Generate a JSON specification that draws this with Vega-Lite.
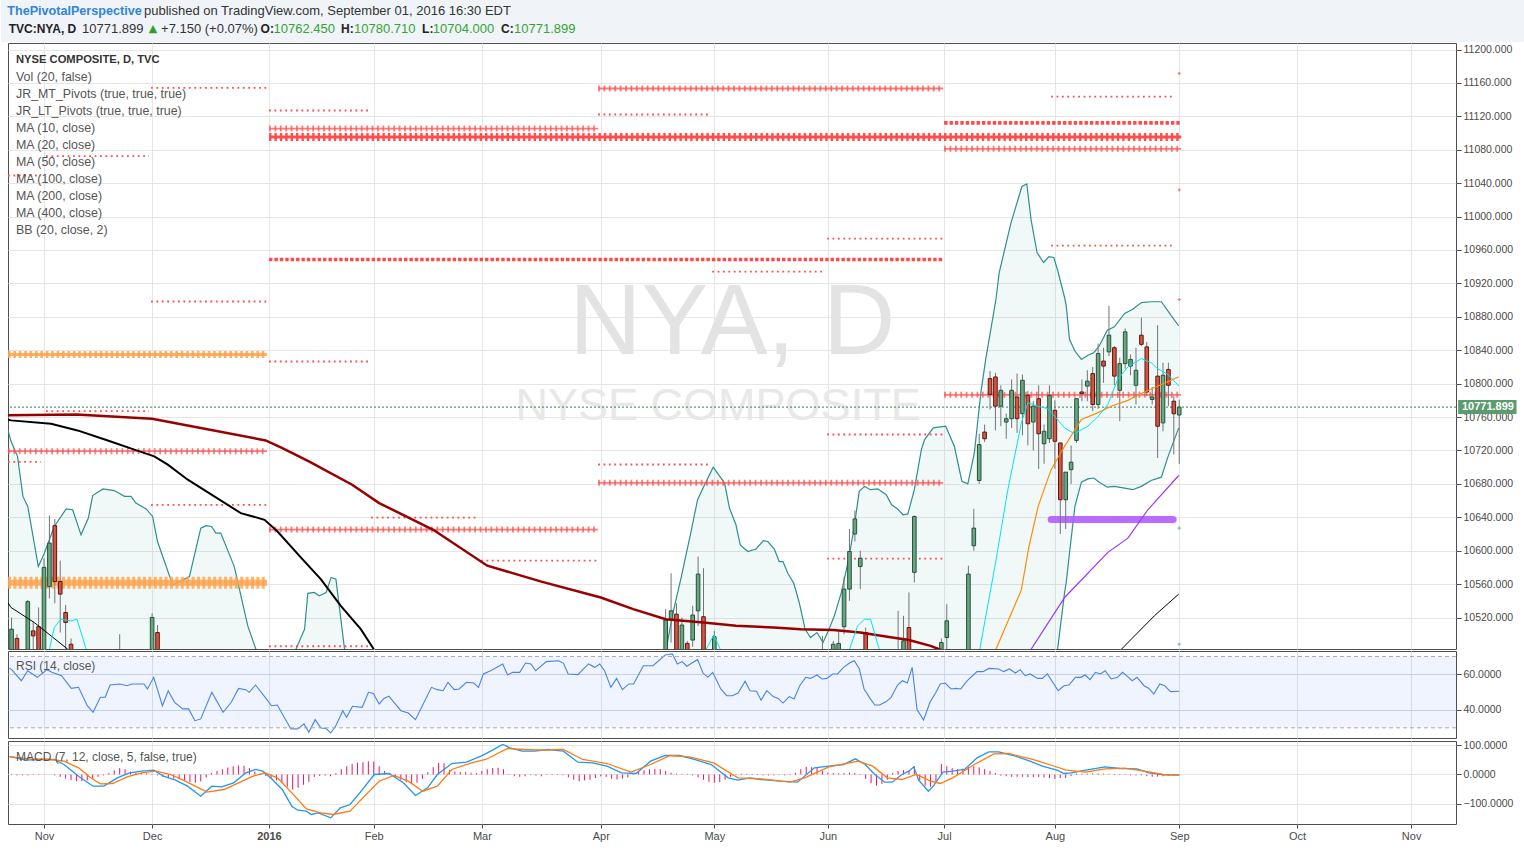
{
"$schema":"https://vega.github.io/schema/vega-lite/v6.json",
"background":"white",
"padding":0,
"spacing":0,
"config":{"font":"Liberation Sans","view":{"stroke":"#4d4d4d","strokeWidth":1},"axis":{"labelFont":"Liberation Sans","labelFontSize":10.5,"labelColor":"#4a4a4a","tickColor":"#4d4d4d","gridColor":"#e6e6e6","domain":false}},
"resolve":{"scale":{"x":"independent","y":"independent"},"axis":{"x":"independent","y":"independent"}},
"datasets":{
"candles":[
{"i":-6,"o":10440,"h":10520,"l":10430,"c":10506},{"i":-5,"o":10495,"h":10500,"l":10440,"c":10450},{"i":-3,"o":10450,"h":10541,"l":10440,"c":10539},{"i":-2,"o":10504,"h":10515,"l":10470,"c":10498},{"i":-1,"o":10509,"h":10532,"l":10460,"c":10470},{"i":0,"o":10470,"h":10591,"l":10465,"c":10580},{"i":1,"o":10557,"h":10642,"l":10543,"c":10609},{"i":2,"o":10630,"h":10638,"l":10537,"c":10563},{"i":3,"o":10563,"h":10588,"l":10502,"c":10548},{"i":4,"o":10526,"h":10535,"l":10470,"c":10514},{"i":5,"o":10488,"h":10495,"l":10430,"c":10440},{"i":14,"o":10470,"h":10500,"l":10440,"c":10460},{"i":20,"o":10470,"h":10525,"l":10460,"c":10520},{"i":21,"o":10502,"h":10511,"l":10450,"c":10460},
{"i":115,"o":10470,"h":10530,"l":10460,"c":10517},{"i":116,"o":10518,"h":10573,"l":10490,"c":10528},{"i":117,"o":10524,"h":10537,"l":10460,"c":10470},{"i":118,"o":10470,"h":10520,"l":10460,"c":10511},{"i":119,"o":10489,"h":10492,"l":10450,"c":10460},{"i":120,"o":10493,"h":10534,"l":10485,"c":10523},{"i":121,"o":10528,"h":10593,"l":10510,"c":10572},{"i":122,"o":10521,"h":10579,"l":10460,"c":10470},{"i":124,"o":10470,"h":10504,"l":10460,"c":10497},
{"i":144,"o":10460,"h":10498,"l":10450,"c":10470},{"i":146,"o":10460,"h":10492,"l":10450,"c":10488},{"i":147,"o":10465,"h":10504,"l":10455,"c":10489},{"i":148,"o":10509,"h":10569,"l":10500,"c":10554},{"i":149,"o":10554,"h":10626,"l":10540,"c":10599},{"i":150,"o":10620,"h":10648,"l":10611,"c":10638},{"i":151,"o":10581,"h":10600,"l":10554,"c":10591},{"i":152,"o":10502,"h":10508,"l":10440,"c":10450},{"i":158,"o":10470,"h":10528,"l":10450,"c":10475},{"i":159,"o":10470,"h":10522,"l":10460,"c":10492},{"i":160,"o":10508,"h":10550,"l":10460,"c":10470},{"i":161,"o":10574,"h":10642,"l":10562,"c":10641},{"i":166,"o":10440,"h":10495,"l":10430,"c":10490},{"i":167,"o":10496,"h":10536,"l":10470,"c":10516},
{"i":171,"o":10470,"h":10582,"l":10460,"c":10572},{"i":172,"o":10606,"h":10650,"l":10600,"c":10627},{"i":173,"o":10684,"h":10740,"l":10680,"c":10727},{"i":174,"o":10742,"h":10751,"l":10730,"c":10734},{"i":175,"o":10806,"h":10815,"l":10769,"c":10787},{"i":176,"o":10808,"h":10813,"l":10744,"c":10773},{"i":177,"o":10773,"h":10798,"l":10749,"c":10792},{"i":178,"o":10754,"h":10764,"l":10734,"c":10758},{"i":179,"o":10758,"h":10805,"l":10747,"c":10792},{"i":180,"o":10784,"h":10812,"l":10741,"c":10758},{"i":181,"o":10764,"h":10811,"l":10738,"c":10804},{"i":182,"o":10786,"h":10791,"l":10726,"c":10752},{"i":183,"o":10754,"h":10779,"l":10720,"c":10773},{"i":184,"o":10782,"h":10798,"l":10698,"c":10740},{"i":185,"o":10728,"h":10751,"l":10704,"c":10743},{"i":186,"o":10734,"h":10798,"l":10729,"c":10786},{"i":187,"o":10768,"h":10780,"l":10698,"c":10731},{"i":188,"o":10729,"h":10729,"l":10620,"c":10661},{"i":189,"o":10661,"h":10694,"l":10626,"c":10694},{"i":190,"o":10697,"h":10726,"l":10680,"c":10706},{"i":191,"o":10732,"h":10782,"l":10729,"c":10782},{"i":192,"o":10790,"h":10805,"l":10779,"c":10788},{"i":193,"o":10797,"h":10816,"l":10779,"c":10803},{"i":194,"o":10812,"h":10820,"l":10767,"c":10775},{"i":195,"o":10775,"h":10848,"l":10770,"c":10836},{"i":196,"o":10827,"h":10843,"l":10801,"c":10821},{"i":197,"o":10838,"h":10893,"l":10833,"c":10858},{"i":198,"o":10843,"h":10845,"l":10798,"c":10809},{"i":199,"o":10792,"h":10831,"l":10755,"c":10824},{"i":200,"o":10824,"h":10866,"l":10818,"c":10862},{"i":201,"o":10821,"h":10835,"l":10810,"c":10829},{"i":202,"o":10798,"h":10843,"l":10775,"c":10816},{"i":203,"o":10858,"h":10879,"l":10845,"c":10847},{"i":204,"o":10844,"h":10850,"l":10785,"c":10790},{"i":205,"o":10781,"h":10796,"l":10775,"c":10784},{"i":206,"o":10809,"h":10870,"l":10711,"c":10749},{"i":207,"o":10753,"h":10825,"l":10743,"c":10810},{"i":208,"o":10817,"h":10825,"l":10773,"c":10798},{"i":209,"o":10779,"h":10785,"l":10715,"c":10764},{"i":210,"o":10762.45,"h":10780.71,"l":10704,"c":10771.899}
],
"bb":[
{"i":-6.7,"up":10745,"lo":9900},{"i":-6.1,"up":10731,"lo":9900},{"i":-4.9,"up":10713,"lo":9900},{"i":-3.9,"up":10665,"lo":9900},{"i":-3.0,"up":10653,"lo":9900},{"i":-1.05,"up":10581,"lo":9900},{"i":0.06,"up":10597,"lo":9900},{"i":1.9,"up":10629,"lo":9900},{"i":4.1,"up":10650,"lo":9900},{"i":5.3,"up":10649,"lo":9900},{"i":6.85,"up":10619,"lo":9900},{"i":8.2,"up":10639,"lo":9900},{"i":9.0,"up":10666,"lo":9900},{"i":10.9,"up":10674,"lo":9900},{"i":13.0,"up":10672,"lo":9900},{"i":14.9,"up":10665,"lo":9900},{"i":16.1,"up":10665,"lo":9900},{"i":17.0,"up":10657,"lo":9900},{"i":18.9,"up":10650,"lo":9900},{"i":20.1,"up":10641,"lo":9900},{"i":21.0,"up":10611,"lo":9900},{"i":23.8,"up":10559,"lo":9900},{"i":26.9,"up":10569,"lo":9900},{"i":29.0,"up":10627,"lo":9900},{"i":30.0,"up":10630,"lo":9900},{"i":31.0,"up":10629,"lo":9900},{"i":31.8,"up":10621,"lo":9900},{"i":32.7,"up":10621,"lo":9900},{"i":35.2,"up":10581,"lo":9900},{"i":37.7,"up":10510,"lo":9900},{"i":39.2,"up":10482,"lo":9900},{"i":41,"up":10440,"lo":9900},{"i":44,"up":10430,"lo":9900},{"i":46.6,"up":10482,"lo":9900},{"i":48.2,"up":10506,"lo":9900},{"i":48.8,"up":10549,"lo":9900},{"i":50.0,"up":10550,"lo":9900},{"i":50.9,"up":10546,"lo":9900},{"i":52.2,"up":10550,"lo":9900},{"i":53.1,"up":10568,"lo":9900},{"i":54.0,"up":10566,"lo":9900},{"i":55.6,"up":10482,"lo":9900},{"i":57,"up":10430,"lo":9900},{"i":65,"up":10200,"lo":9700},{"i":80,"up":10150,"lo":9700},{"i":95,"up":10300,"lo":9800},{"i":108,"up":10400,"lo":9900},{"i":113.5,"up":10450,"lo":9900},{"i":115.1,"up":10482,"lo":9900},{"i":116.3,"up":10524,"lo":9900},{"i":117.9,"up":10569,"lo":9900},{"i":119.7,"up":10623,"lo":9900},{"i":120.9,"up":10661,"lo":9900},{"i":122.2,"up":10679,"lo":9900},{"i":123.8,"up":10700,"lo":9900},{"i":125.9,"up":10681,"lo":9900},{"i":126.8,"up":10651,"lo":9900},{"i":128.0,"up":10631,"lo":9900},{"i":128.8,"up":10607,"lo":9900},{"i":130.2,"up":10599,"lo":9900},{"i":131.7,"up":10602,"lo":9900},{"i":133.1,"up":10612,"lo":9900},{"i":133.9,"up":10611,"lo":9900},{"i":135.1,"up":10602,"lo":9900},{"i":136.0,"up":10587,"lo":9900},{"i":136.7,"up":10587,"lo":9900},{"i":137.6,"up":10573,"lo":9900},{"i":138.7,"up":10561,"lo":9900},{"i":139.7,"up":10538,"lo":9900},{"i":140.8,"up":10506,"lo":9900},{"i":141.8,"up":10496,"lo":9900},{"i":143.0,"up":10502,"lo":9900},{"i":144.1,"up":10490,"lo":9900},{"i":145.1,"up":10504,"lo":9900},{"i":146.2,"up":10522,"lo":9900},{"i":147.5,"up":10550,"lo":9900},{"i":148.7,"up":10585,"lo":9900},{"i":149.8,"up":10625,"lo":9900},{"i":150.8,"up":10671,"lo":9900},{"i":151.8,"up":10677,"lo":9900},{"i":152.9,"up":10673,"lo":9900},{"i":154.2,"up":10674,"lo":9900},{"i":155.8,"up":10667,"lo":9900},{"i":156.8,"up":10655,"lo":9900},{"i":157.9,"up":10650,"lo":9900},{"i":158.9,"up":10643,"lo":9900},{"i":159.8,"up":10644,"lo":9900},{"i":161.0,"up":10673,"lo":9900},{"i":162.3,"up":10721,"lo":9900},{"i":162.9,"up":10733,"lo":9900},{"i":164.5,"up":10747,"lo":9900},{"i":166.8,"up":10749,"lo":9900},{"i":168.4,"up":10725,"lo":9900},{"i":169.8,"up":10683,"lo":9900},{"i":170.9,"up":10680,"lo":9900},{"i":172.1,"up":10717,"lo":9900},{"i":173.3,"up":10789,"lo":9900},{"i":174.2,"up":10829,"lo":9900},{"i":176.1,"up":10901,"lo":9950},{"i":176.7,"up":10933,"lo":9950},{"i":178.9,"up":10993,"lo":10000},{"i":180.9,"up":11036,"lo":10050},{"i":181.8,"up":11039,"lo":10100},{"i":182.6,"up":10996,"lo":10150},{"i":183.7,"up":10957,"lo":10250},{"i":184.9,"up":10945,"lo":10330},{"i":185.9,"up":10952,"lo":10380},{"i":186.8,"up":10951,"lo":10430},{"i":187.5,"up":10936,"lo":10482},{"i":188.8,"up":10903,"lo":10550},{"i":189.1,"up":10893,"lo":10562},{"i":189.7,"up":10853,"lo":10597},{"i":190.7,"up":10839,"lo":10653},{"i":191.9,"up":10829,"lo":10682},{"i":193.1,"up":10834,"lo":10686},{"i":194.2,"up":10837,"lo":10687},{"i":195.2,"up":10845,"lo":10682},{"i":196.7,"up":10864,"lo":10676},{"i":198.0,"up":10868,"lo":10677},{"i":199.9,"up":10884,"lo":10675},{"i":201.4,"up":10889,"lo":10673},{"i":203.0,"up":10897,"lo":10677},{"i":204.8,"up":10898,"lo":10684},{"i":206.7,"up":10898,"lo":10688},{"i":207.9,"up":10887,"lo":10712},{"i":209.9,"up":10869,"lo":10747}
],
"ma":[
{"i":-6.7,"v":10440,"ma":"10"},{"i":-1,"v":10430,"ma":"10"},{"i":1.0,"v":10482,"ma":"10"},{"i":1.9,"v":10508,"ma":"10"},{"i":3.1,"v":10518,"ma":"10"},{"i":5.0,"v":10516,"ma":"10"},{"i":6.1,"v":10518,"ma":"10"},{"i":7.8,"v":10482,"ma":"10"},{"i":9,"v":10450,"ma":"10"},{"i":30,"v":10300,"ma":"10"},{"i":60,"v":9800,"ma":"10"},{"i":100,"v":10250,"ma":"10"},{"i":120,"v":10440,"ma":"10"},{"i":122.5,"v":10482,"ma":"10"},{"i":123.9,"v":10499,"ma":"10"},{"i":125.1,"v":10482,"ma":"10"},{"i":127,"v":10450,"ma":"10"},{"i":140,"v":10420,"ma":"10"},{"i":149,"v":10482,"ma":"10"},{"i":150.5,"v":10510,"ma":"10"},{"i":151.8,"v":10518,"ma":"10"},{"i":152.9,"v":10518,"ma":"10"},{"i":154.5,"v":10482,"ma":"10"},{"i":156,"v":10450,"ma":"10"},{"i":165,"v":10420,"ma":"10"},{"i":173.1,"v":10482,"ma":"10"},{"i":175.9,"v":10581,"ma":"10"},{"i":178.3,"v":10673,"ma":"10"},{"i":180.8,"v":10753,"ma":"10"},{"i":182,"v":10777,"ma":"10"},{"i":183.9,"v":10773,"ma":"10"},{"i":185.7,"v":10770,"ma":"10"},{"i":187.2,"v":10759,"ma":"10"},{"i":188.8,"v":10747,"ma":"10"},{"i":190.6,"v":10740,"ma":"10"},{"i":193.1,"v":10749,"ma":"10"},{"i":194.9,"v":10760,"ma":"10"},{"i":196.8,"v":10775,"ma":"10"},{"i":198.6,"v":10805,"ma":"10"},{"i":200.5,"v":10820,"ma":"10"},{"i":203,"v":10830,"ma":"10"},{"i":204.8,"v":10825,"ma":"10"},{"i":206,"v":10818,"ma":"10"},{"i":207.9,"v":10811,"ma":"10"},{"i":210,"v":10797,"ma":"10"},
{"i":-6.7,"v":10400,"ma":"20"},{"i":100,"v":10200,"ma":"20"},{"i":150,"v":10350,"ma":"20"},{"i":170,"v":10420,"ma":"20"},{"i":176.1,"v":10482,"ma":"20"},{"i":180.8,"v":10553,"ma":"20"},{"i":182.2,"v":10605,"ma":"20"},{"i":183.9,"v":10653,"ma":"20"},{"i":186.3,"v":10697,"ma":"20"},{"i":188.8,"v":10725,"ma":"20"},{"i":191.9,"v":10757,"ma":"20"},{"i":194.9,"v":10765,"ma":"20"},{"i":197.4,"v":10773,"ma":"20"},{"i":200.5,"v":10780,"ma":"20"},{"i":203.3,"v":10789,"ma":"20"},{"i":206.7,"v":10799,"ma":"20"},{"i":209.9,"v":10808,"ma":"20"},
{"i":-6.7,"v":10350,"ma":"50"},{"i":100,"v":10100,"ma":"50"},{"i":160,"v":10300,"ma":"50"},{"i":182.6,"v":10482,"ma":"50"},{"i":188.8,"v":10544,"ma":"50"},{"i":196.8,"v":10598,"ma":"50"},{"i":200.5,"v":10615,"ma":"50"},{"i":204.2,"v":10649,"ma":"50"},{"i":209.9,"v":10690,"ma":"50"},
{"i":-6.7,"v":10538,"ma":"100"},{"i":-6.1,"v":10532,"ma":"100"},{"i":-1.8,"v":10514,"ma":"100"},{"i":4.4,"v":10482,"ma":"100"},{"i":10,"v":10440,"ma":"100"},{"i":60,"v":10000,"ma":"100"},{"i":150,"v":10200,"ma":"100"},{"i":190,"v":10420,"ma":"100"},{"i":199.3,"v":10482,"ma":"100"},{"i":205.4,"v":10522,"ma":"100"},{"i":209.9,"v":10548,"ma":"100"},
{"i":-6.7,"v":10757,"ma":"200"},{"i":-6.1,"v":10756,"ma":"200"},{"i":1.3,"v":10752,"ma":"200"},{"i":6.2,"v":10744,"ma":"200"},{"i":11.8,"v":10732,"ma":"200"},{"i":16.7,"v":10721,"ma":"200"},{"i":20.4,"v":10713,"ma":"200"},{"i":22.9,"v":10703,"ma":"200"},{"i":26.6,"v":10685,"ma":"200"},{"i":31.5,"v":10665,"ma":"200"},{"i":36.4,"v":10645,"ma":"200"},{"i":40.8,"v":10637,"ma":"200"},{"i":43.2,"v":10623,"ma":"200"},{"i":47.5,"v":10592,"ma":"200"},{"i":51.2,"v":10566,"ma":"200"},{"i":54.9,"v":10534,"ma":"200"},{"i":58.6,"v":10506,"ma":"200"},{"i":60.8,"v":10484,"ma":"200"},{"i":63,"v":10460,"ma":"200"},{"i":80,"v":10300,"ma":"200"},{"i":150,"v":10250,"ma":"200"},{"i":210,"v":10350,"ma":"200"},
{"i":-6.7,"v":10762,"ma":"400"},{"i":6,"v":10763,"ma":"400"},{"i":20,"v":10758,"ma":"400"},{"i":29,"v":10747,"ma":"400"},{"i":41,"v":10732,"ma":"400"},{"i":44,"v":10723,"ma":"400"},{"i":49,"v":10707,"ma":"400"},{"i":57,"v":10679,"ma":"400"},{"i":62,"v":10657,"ma":"400"},{"i":72,"v":10625,"ma":"400"},{"i":82,"v":10582,"ma":"400"},{"i":92,"v":10563,"ma":"400"},{"i":103,"v":10544,"ma":"400"},{"i":109,"v":10530,"ma":"400"},{"i":115,"v":10518,"ma":"400"},{"i":122,"v":10514,"ma":"400"},{"i":128,"v":10510,"ma":"400"},{"i":135,"v":10508,"ma":"400"},{"i":140,"v":10506,"ma":"400"},{"i":146,"v":10505,"ma":"400"},{"i":151,"v":10502,"ma":"400"},{"i":156,"v":10497,"ma":"400"},{"i":160,"v":10493,"ma":"400"},{"i":164,"v":10486,"ma":"400"},{"i":168,"v":10476,"ma":"400"},{"i":180,"v":10450,"ma":"400"},{"i":210,"v":10420,"ma":"400"}
],
"piv":[
{"from":19.8,"to":41.26,"p":11154.1,"t":"m"},{"from":102.5,"to":166.33,"p":11153.3,"t":"c"},{"from":186.31,"to":208.88,"p":11143.7,"t":"m"},{"from":41.63,"to":60.13,"p":11127,"t":"m"},{"from":102.5,"to":123.04,"p":11122.2,"t":"m"},{"from":166.51,"to":210.36,"p":11112.2,"t":"d"},{"from":41.63,"to":102.5,"p":11105.4,"t":"c"},{"from":41.63,"to":210.36,"p":11095.2,"t":"cc"},{"from":166.51,"to":210.36,"p":11081.1,"t":"c"},{"from":0.37,"to":19.43,"p":11072.3,"t":"m"},{"from":-6.66,"to":-0.55,"p":11049.2,"t":"m"},{"from":144.87,"to":166.33,"p":10973.7,"t":"m"},{"from":186.31,"to":208.88,"p":10965.3,"t":"m"},{"from":41.63,"to":166.33,"p":10948.6,"t":"d"},{"from":123.6,"to":144.13,"p":10934.2,"t":"m"},{"from":19.8,"to":41.26,"p":10898.3,"t":"m"},{"from":-6.66,"to":41.26,"p":10834.9,"t":"o"},{"from":41.63,"to":60.13,"p":10826.5,"t":"m"},{"from":166.51,"to":210.36,"p":10786.6,"t":"c"},{"from":0.37,"to":19.43,"p":10767,"t":"m"},{"from":144.87,"to":166.33,"p":10739.1,"t":"m"},{"from":-6.66,"to":41.26,"p":10719.1,"t":"c"},{"from":-6.66,"to":-0.55,"p":10706.4,"t":"m"},{"from":102.5,"to":123.04,"p":10703.2,"t":"m"},{"from":102.5,"to":166.33,"p":10681.3,"t":"c"},{"from":19.8,"to":41.26,"p":10654.9,"t":"m"},{"from":60.5,"to":80.11,"p":10639.7,"t":"m"},{"from":186.31,"to":208.88,"p":10637.3,"t":"p"},{"from":41.63,"to":102.5,"p":10625.3,"t":"c"},{"from":80.85,"to":102.5,"p":10588.2,"t":"m"},{"from":144.87,"to":166.33,"p":10590.6,"t":"m"},{"from":-6.66,"to":41.26,"p":10561.5,"t":"oo"},{"from":41.63,"to":60.13,"p":10485.6,"t":"m"}
],
"piv0":[{"i":210,"p":11171.3,"side":"r"},{"i":210,"p":11032,"side":"r"},{"i":210,"p":10900.7,"side":"r"},{"i":210,"p":10627,"side":"s"},{"i":210,"p":10488,"side":"s"}],
"rsi":[
{"i":-6.4,"v":63.4},{"i":-5.98,"v":62.6},{"i":-4.19,"v":56.4},{"i":-3.02,"v":62.0},{"i":-1.23,"v":58.3},{"i":0.56,"v":62.6},{"i":1.46,"v":61.1},{"i":3.25,"v":59.2},{"i":5.05,"v":52.1},{"i":6.39,"v":52.7},{"i":8.01,"v":42.4},{"i":9.08,"v":38.7},{"i":10.43,"v":47.1},{"i":11.32,"v":47.1},{"i":12.22,"v":54.0},{"i":14.02,"v":54.6},{"i":15.36,"v":53.6},{"i":16.26,"v":54.6},{"i":18.5,"v":54.6},{"i":19.13,"v":51.8},{"i":20.29,"v":58.3},{"i":21.91,"v":42.4},{"i":22.98,"v":50.8},{"i":24.15,"v":44.3},{"i":25.67,"v":40.6},{"i":26.75,"v":40.6},{"i":27.92,"v":34.0},{"i":28.99,"v":35.0},{"i":31.05,"v":49.9},{"i":33.12,"v":38.7},{"i":34.64,"v":44.3},{"i":35.99,"v":52.1},{"i":37.33,"v":51.4},{"i":37.96,"v":49.9},{"i":39.13,"v":54.0},{"i":40.92,"v":47.1},{"i":42.09,"v":42.4},{"i":43.16,"v":42.8},{"i":45.67,"v":29.4},{"i":46.93,"v":29.4},{"i":48.1,"v":32.2},{"i":48.99,"v":27.5},{"i":50.16,"v":34.6},{"i":51.23,"v":29.9},{"i":52.13,"v":29.7},{"i":53.03,"v":27.1},{"i":53.92,"v":30.8},{"i":55.27,"v":39.6},{"i":55.98,"v":35.9},{"i":57.06,"v":42.1},{"i":58.86,"v":41.5},{"i":60.02,"v":49.9},{"i":60.92,"v":49.3},{"i":62.0,"v":43.4},{"i":62.89,"v":46.5},{"i":63.79,"v":47.7},{"i":66.03,"v":39.6},{"i":67.38,"v":38.3},{"i":68.72,"v":34.6},{"i":70.06,"v":42.8},{"i":71.68,"v":52.7},{"i":72.76,"v":51.4},{"i":73.83,"v":50.8},{"i":74.73,"v":55.5},{"i":75.89,"v":51.4},{"i":76.79,"v":51.8},{"i":78.14,"v":55.5},{"i":79.48,"v":55.1},{"i":80.38,"v":52.7},{"i":81.28,"v":60.2},{"i":82.62,"v":62.0},{"i":84.86,"v":65.8},{"i":85.76,"v":59.6},{"i":86.66,"v":61.1},{"i":88.0,"v":61.1},{"i":89.08,"v":66.3},{"i":90.07,"v":65.8},{"i":90.96,"v":62.0},{"i":92.93,"v":67.1},{"i":95.17,"v":67.6},{"i":96.07,"v":66.3},{"i":96.97,"v":60.2},{"i":98.76,"v":59.8},{"i":100.73,"v":65.8},{"i":101.9,"v":63.9},{"i":102.8,"v":65.8},{"i":103.7,"v":62.0},{"i":104.86,"v":52.7},{"i":105.93,"v":57.7},{"i":107.0,"v":51.4},{"i":108.18,"v":54.6},{"i":109.07,"v":54.6},{"i":110.87,"v":64.8},{"i":112.66,"v":64.8},{"i":114.9,"v":70.8},{"i":116.25,"v":71.4},{"i":117.15,"v":65.8},{"i":118.04,"v":67.1},{"i":118.94,"v":64.5},{"i":119.84,"v":66.3},{"i":120.91,"v":68.2},{"i":121.9,"v":60.7},{"i":122.8,"v":58.3},{"i":123.7,"v":61.1},{"i":125.2,"v":51.8},{"i":126.3,"v":48.0},{"i":127.3,"v":48.0},{"i":128.4,"v":49.5},{"i":129.7,"v":56.1},{"i":130.6,"v":50.8},{"i":131.8,"v":50.5},{"i":132.65,"v":45.5},{"i":133.7,"v":50.8},{"i":134.9,"v":47.5},{"i":135.8,"v":46.5},{"i":136.7,"v":43.9},{"i":137.85,"v":47.5},{"i":138.75,"v":46.2},{"i":139.8,"v":53.6},{"i":140.9,"v":58.3},{"i":141.8,"v":57.7},{"i":143.0,"v":59.6},{"i":143.9,"v":57.4},{"i":144.8,"v":57.7},{"i":145.9,"v":60.2},{"i":146.8,"v":60.2},{"i":147.9,"v":63.9},{"i":149.0,"v":66.3},{"i":149.9,"v":67.6},{"i":150.8,"v":63.3},{"i":151.7,"v":51.8},{"i":152.8,"v":46.5},{"i":153.7,"v":42.8},{"i":154.6,"v":42.8},{"i":155.8,"v":44.7},{"i":156.7,"v":47.1},{"i":157.9,"v":54.0},{"i":158.8,"v":56.4},{"i":159.7,"v":55.1},{"i":160.6,"v":63.9},{"i":161.5,"v":40.2},{"i":162.7,"v":34.4},{"i":163.9,"v":44.3},{"i":165.0,"v":49.9},{"i":165.8,"v":54.6},{"i":166.7,"v":55.1},{"i":167.8,"v":51.8},{"i":168.7,"v":52.1},{"i":169.6,"v":51.8},{"i":170.8,"v":56.4},{"i":172.6,"v":61.5},{"i":173.7,"v":61.5},{"i":174.8,"v":63.3},{"i":176.6,"v":63.0},{"i":177.5,"v":61.5},{"i":178.6,"v":63.0},{"i":179.7,"v":60.7},{"i":180.6,"v":62.6},{"i":181.5,"v":59.2},{"i":182.4,"v":60.2},{"i":183.8,"v":57.7},{"i":184.7,"v":57.7},{"i":185.6,"v":60.2},{"i":186.6,"v":55.5},{"i":187.6,"v":50.8},{"i":188.7,"v":53.6},{"i":189.6,"v":54.0},{"i":190.8,"v":58.3},{"i":191.8,"v":58.3},{"i":192.6,"v":59.6},{"i":193.5,"v":57.0},{"i":194.5,"v":61.1},{"i":195.4,"v":60.2},{"i":196.3,"v":62.0},{"i":197.4,"v":57.4},{"i":198.6,"v":58.3},{"i":199.5,"v":61.1},{"i":200.4,"v":58.8},{"i":201.3,"v":56.4},{"i":202.2,"v":58.3},{"i":203.5,"v":53.6},{"i":204.4,"v":52.1},{"i":205.3,"v":48.9},{"i":206.4,"v":54.6},{"i":207.3,"v":53.6},{"i":208.4,"v":50.3},{"i":210,"v":50.5}
],
"macd":[
{"i":-6.4,"v":61,"k":"m"},{"i":-5.98,"v":60.3,"k":"m"},{"i":-3.47,"v":48.9,"k":"m"},{"i":-0.78,"v":51.2,"k":"m"},{"i":1.91,"v":51.2,"k":"m"},{"i":3.7,"v":34.1,"k":"m"},{"i":6.39,"v":-5.7,"k":"m"},{"i":9.08,"v":-39.8,"k":"m"},{"i":11.06,"v":-39.8,"k":"m"},{"i":13.57,"v":-11.4,"k":"m"},{"i":15.81,"v":5.7,"k":"m"},{"i":18.05,"v":11.4,"k":"m"},{"i":20.29,"v":14.8,"k":"m"},{"i":22.09,"v":-5.7,"k":"m"},{"i":24.33,"v":-19.3,"k":"m"},{"i":26.57,"v":-39.8,"k":"m"},{"i":28.99,"v":-73.9,"k":"m"},{"i":31.05,"v":-39.8,"k":"m"},{"i":32.85,"v":-42.1,"k":"m"},{"i":35.09,"v":-28.4,"k":"m"},{"i":37.33,"v":5.7,"k":"m"},{"i":39.13,"v":17.1,"k":"m"},{"i":40.47,"v":11.4,"k":"m"},{"i":42.26,"v":-17.1,"k":"m"},{"i":44.06,"v":-51.2,"k":"m"},{"i":45.85,"v":-108.1,"k":"m"},{"i":46.93,"v":-121.7,"k":"m"},{"i":48.54,"v":-125.1,"k":"m"},{"i":49.44,"v":-136.5,"k":"m"},{"i":50.78,"v":-130.8,"k":"m"},{"i":53.03,"v":-147.9,"k":"m"},{"i":54.82,"v":-113.8,"k":"m"},{"i":56.62,"v":-102.4,"k":"m"},{"i":58.41,"v":-62.6,"k":"m"},{"i":61.1,"v":0,"k":"m"},{"i":63.79,"v":3.4,"k":"m"},{"i":66.48,"v":-28.4,"k":"m"},{"i":68.72,"v":-71.7,"k":"m"},{"i":70.96,"v":-45.5,"k":"m"},{"i":72.76,"v":0,"k":"m"},{"i":75.44,"v":37.5,"k":"m"},{"i":78.14,"v":42.1,"k":"m"},{"i":80.83,"v":62.6,"k":"m"},{"i":82.62,"v":79.6,"k":"m"},{"i":84.86,"v":102.4,"k":"m"},{"i":86.21,"v":91.0,"k":"m"},{"i":88.45,"v":79.6,"k":"m"},{"i":90.69,"v":79.6,"k":"m"},{"i":93.38,"v":85.3,"k":"m"},{"i":96.07,"v":79.6,"k":"m"},{"i":98.76,"v":42.1,"k":"m"},{"i":101.45,"v":39.8,"k":"m"},{"i":104.14,"v":28.4,"k":"m"},{"i":106.83,"v":5.7,"k":"m"},{"i":109.52,"v":3.4,"k":"m"},{"i":112.21,"v":45.5,"k":"m"},{"i":114.9,"v":64.8,"k":"m"},{"i":117.6,"v":64.8,"k":"m"},{"i":120.28,"v":51.2,"k":"m"},{"i":123.42,"v":34.1,"k":"m"},{"i":126.56,"v":-11.4,"k":"m"},{"i":128.36,"v":-19.3,"k":"m"},{"i":130.6,"v":-11.4,"k":"m"},{"i":132.65,"v":-17,"k":"m"},{"i":136.24,"v":-22.8,"k":"m"},{"i":139.4,"v":-26.2,"k":"m"},{"i":142.5,"v":22.8,"k":"m"},{"i":145.2,"v":28.4,"k":"m"},{"i":147.9,"v":34.1,"k":"m"},{"i":150.1,"v":53.5,"k":"m"},{"i":151.9,"v":34.1,"k":"m"},{"i":153.7,"v":0,"k":"m"},{"i":155.5,"v":-26.2,"k":"m"},{"i":156.9,"v":-26.2,"k":"m"},{"i":158.7,"v":0,"k":"m"},{"i":160.0,"v":11.4,"k":"m"},{"i":160.9,"v":26.2,"k":"m"},{"i":161.8,"v":-19.3,"k":"m"},{"i":163.6,"v":-56.9,"k":"m"},{"i":164.5,"v":-39.8,"k":"m"},{"i":166.3,"v":8.0,"k":"m"},{"i":168.1,"v":11.4,"k":"m"},{"i":170.3,"v":17.1,"k":"m"},{"i":172.6,"v":56.9,"k":"m"},{"i":174.8,"v":77.4,"k":"m"},{"i":176.6,"v":77.4,"k":"m"},{"i":179.3,"v":64.8,"k":"m"},{"i":182.4,"v":45.5,"k":"m"},{"i":184.7,"v":28.4,"k":"m"},{"i":187.4,"v":14.8,"k":"m"},{"i":188.7,"v":3.4,"k":"m"},{"i":190.0,"v":5.7,"k":"m"},{"i":192.7,"v":14.8,"k":"m"},{"i":196.3,"v":26.2,"k":"m"},{"i":199.0,"v":20.5,"k":"m"},{"i":202.2,"v":19.3,"k":"m"},{"i":204.4,"v":5.7,"k":"m"},{"i":207.1,"v":-1.1,"k":"m"},{"i":210,"v":-2.3,"k":"m"},
{"i":-6.4,"v":61,"k":"s"},{"i":-5.98,"v":60.3,"k":"s"},{"i":-2.58,"v":53.5,"k":"s"},{"i":1.01,"v":51.2,"k":"s"},{"i":3.7,"v":45.5,"k":"s"},{"i":6.39,"v":22.8,"k":"s"},{"i":8.63,"v":-11.4,"k":"s"},{"i":10.43,"v":-31.9,"k":"s"},{"i":12.67,"v":-30.7,"k":"s"},{"i":15.36,"v":-8.0,"k":"s"},{"i":18.05,"v":5.7,"k":"s"},{"i":20.74,"v":11.4,"k":"s"},{"i":23.43,"v":0,"k":"s"},{"i":26.12,"v":-22.8,"k":"s"},{"i":30.16,"v":-60.3,"k":"s"},{"i":33.3,"v":-51.2,"k":"s"},{"i":35.99,"v":-28.4,"k":"s"},{"i":38.67,"v":-5.7,"k":"s"},{"i":40.92,"v":5.7,"k":"s"},{"i":43.16,"v":-11.4,"k":"s"},{"i":45.85,"v":-62.6,"k":"s"},{"i":48.54,"v":-117.2,"k":"s"},{"i":51.23,"v":-130.8,"k":"s"},{"i":53.47,"v":-136.5,"k":"s"},{"i":56.6,"v":-125.1,"k":"s"},{"i":59.3,"v":-73.9,"k":"s"},{"i":62.0,"v":-22.8,"k":"s"},{"i":64.69,"v":-3.4,"k":"s"},{"i":67.38,"v":-22.8,"k":"s"},{"i":70.06,"v":-56.9,"k":"s"},{"i":72.76,"v":-39.8,"k":"s"},{"i":75.44,"v":17.1,"k":"s"},{"i":79.03,"v":39.8,"k":"s"},{"i":81.72,"v":51.2,"k":"s"},{"i":85.76,"v":88.7,"k":"s"},{"i":88.9,"v":85.3,"k":"s"},{"i":92.48,"v":83.0,"k":"s"},{"i":96.07,"v":85.3,"k":"s"},{"i":99.66,"v":51.2,"k":"s"},{"i":104.14,"v":37.5,"k":"s"},{"i":108.6,"v":8.0,"k":"s"},{"i":112.21,"v":34.1,"k":"s"},{"i":115.8,"v":64.8,"k":"s"},{"i":119.39,"v":60.3,"k":"s"},{"i":123.87,"v":39.8,"k":"s"},{"i":128.36,"v":-11.4,"k":"s"},{"i":132.65,"v":-14.8,"k":"s"},{"i":138.0,"v":-26.2,"k":"s"},{"i":140.7,"v":-11.4,"k":"s"},{"i":145.2,"v":26.2,"k":"s"},{"i":150.6,"v":45.5,"k":"s"},{"i":153.3,"v":28.4,"k":"s"},{"i":156.0,"v":-11.4,"k":"s"},{"i":158.7,"v":-17.1,"k":"s"},{"i":161.35,"v":0,"k":"s"},{"i":164.0,"v":-22.8,"k":"s"},{"i":165.8,"v":-30.7,"k":"s"},{"i":168.1,"v":-11.4,"k":"s"},{"i":172.1,"v":34.1,"k":"s"},{"i":175.7,"v":70.5,"k":"s"},{"i":178.4,"v":71.7,"k":"s"},{"i":182.9,"v":51.2,"k":"s"},{"i":186.5,"v":30.7,"k":"s"},{"i":189.1,"v":14.8,"k":"s"},{"i":192.7,"v":8.0,"k":"s"},{"i":196.3,"v":19.3,"k":"s"},{"i":199.9,"v":21.6,"k":"s"},{"i":203.5,"v":11.4,"k":"s"},{"i":207.1,"v":0,"k":"s"},{"i":210,"v":-1.1,"k":"s"}
],
"hist":[
{"i":-6,"h":-2},{"i":-5,"h":-3},{"i":-4,"h":-3},{"i":-3,"h":-3},{"i":-2,"h":-2},{"i":-1,"h":-2},{"i":0,"h":-1},{"i":1,"h":0},{"i":2,"h":-3},{"i":3,"h":-8},{"i":4,"h":-14},{"i":5,"h":-19},{"i":6,"h":-23},{"i":7,"h":-23},{"i":8,"h":-20},{"i":9,"h":-14},{"i":10,"h":-8},{"i":11,"h":-3},{"i":12,"h":5},{"i":13,"h":14},{"i":14,"h":22},{"i":15,"h":18},{"i":16,"h":10},{"i":17,"h":6},{"i":18,"h":5},{"i":19,"h":4},{"i":20,"h":2},{"i":21,"h":-3},{"i":22,"h":-8},{"i":23,"h":-12},{"i":24,"h":-14},{"i":25,"h":-17},{"i":26,"h":-20},{"i":27,"h":-25},{"i":28,"h":-28},{"i":29,"h":-24},{"i":30,"h":-10},{"i":31,"h":5},{"i":32,"h":12},{"i":33,"h":18},{"i":34,"h":24},{"i":35,"h":28},{"i":36,"h":31},{"i":37,"h":30},{"i":38,"h":22},{"i":39,"h":10},{"i":40,"h":3},{"i":41,"h":-5},{"i":42,"h":-12},{"i":43,"h":-20},{"i":44,"h":-30},{"i":45,"h":-42},{"i":46,"h":-51},{"i":47,"h":-45},{"i":48,"h":-35},{"i":49,"h":-25},{"i":50,"h":-8},{"i":51,"h":-5},{"i":52,"h":-4},{"i":53,"h":-6},{"i":54,"h":5},{"i":55,"h":18},{"i":56,"h":28},{"i":57,"h":36},{"i":58,"h":40},{"i":59,"h":42},{"i":60,"h":45},{"i":61,"h":44},{"i":62,"h":28},{"i":63,"h":12},{"i":64,"h":5},{"i":65,"h":-8},{"i":66,"h":-18},{"i":67,"h":-26},{"i":68,"h":-33},{"i":69,"h":-28},{"i":70,"h":-15},{"i":71,"h":8},{"i":72,"h":25},{"i":73,"h":40},{"i":74,"h":38},{"i":75,"h":15},{"i":76,"h":10},{"i":77,"h":8},{"i":78,"h":8},{"i":79,"h":6},{"i":80,"h":5},{"i":81,"h":12},{"i":82,"h":18},{"i":83,"h":22},{"i":84,"h":23},{"i":85,"h":18},{"i":86,"h":2},{"i":87,"h":-6},{"i":88,"h":-8},{"i":89,"h":-6},{"i":90,"h":-2},{"i":91,"h":-4},{"i":92,"h":-6},{"i":93,"h":2},{"i":94,"h":-2},{"i":95,"h":-2},{"i":96,"h":-3},{"i":97,"h":-10},{"i":98,"h":-18},{"i":99,"h":-23},{"i":100,"h":-20},{"i":101,"h":-18},{"i":102,"h":-12},{"i":103,"h":-6},{"i":104,"h":-8},{"i":105,"h":-15},{"i":106,"h":-17},{"i":107,"h":-14},{"i":108,"h":-10},{"i":109,"h":-2},{"i":110,"h":8},{"i":111,"h":14},{"i":112,"h":18},{"i":113,"h":19},{"i":114,"h":18},{"i":115,"h":12},{"i":116,"h":6},{"i":117,"h":3},{"i":118,"h":2},{"i":119,"h":2},{"i":120,"h":-3},{"i":121,"h":-10},{"i":122,"h":-18},{"i":123,"h":-25},{"i":124,"h":-28},{"i":125,"h":-26},{"i":126,"h":-18},{"i":127,"h":-8},{"i":128,"h":2},{"i":129,"h":3},{"i":130,"h":3},{"i":131,"h":2},{"i":132,"h":-2},{"i":133,"h":-3},{"i":134,"h":-3},{"i":135,"h":-3},{"i":136,"h":-2},{"i":137,"h":-3},{"i":138,"h":2},{"i":139,"h":6},{"i":140,"h":18},{"i":141,"h":26},{"i":142,"h":25},{"i":143,"h":22},{"i":144,"h":12},{"i":145,"h":6},{"i":146,"h":5},{"i":147,"h":4},{"i":148,"h":5},{"i":149,"h":6},{"i":150,"h":5},{"i":151,"h":-2},{"i":152,"h":-15},{"i":153,"h":-30},{"i":154,"h":-38},{"i":155,"h":-32},{"i":156,"h":-18},{"i":157,"h":5},{"i":158,"h":12},{"i":159,"h":15},{"i":160,"h":12},{"i":161,"h":28},{"i":162,"h":-20},{"i":163,"h":-38},{"i":164,"h":-42},{"i":165,"h":-25},{"i":166,"h":36},{"i":167,"h":28},{"i":168,"h":22},{"i":169,"h":18},{"i":170,"h":20},{"i":171,"h":26},{"i":172,"h":28},{"i":173,"h":24},{"i":174,"h":18},{"i":175,"h":12},{"i":176,"h":5},{"i":177,"h":-4},{"i":178,"h":-6},{"i":179,"h":-8},{"i":180,"h":-8},{"i":181,"h":-8},{"i":182,"h":-9},{"i":183,"h":-9},{"i":184,"h":-9},{"i":185,"h":-10},{"i":186,"h":-12},{"i":187,"h":-15},{"i":188,"h":-12},{"i":189,"h":-12},{"i":190,"h":-5},{"i":191,"h":3},{"i":192,"h":3},{"i":193,"h":3},{"i":194,"h":4},{"i":195,"h":4},{"i":196,"h":3},{"i":197,"h":2},{"i":198,"h":-2},{"i":199,"h":-2},{"i":200,"h":2},{"i":201,"h":-3},{"i":202,"h":-3},{"i":203,"h":-3},{"i":204,"h":-6},{"i":205,"h":-8},{"i":206,"h":-7},{"i":207,"h":-6},{"i":208,"h":-4},{"i":209,"h":-3},{"i":210,"h":-2}
]
},
"vconcat":[
{
"width":1448,"height":42,"view":{"stroke":null},
"layer":[
{"data":{"values":[{}]},"mark":{"type":"rect","color":"#f0f3f8","clip":false},"encoding":{"x":{"datum":-7.96,"type":"quantitative","scale":{"domain":[-6.66,261.2],"nice":false,"zero":false},"axis":null},"x2":{"datum":273.9},"y":{"datum":1,"type":"quantitative","scale":{"domain":[0,1],"nice":false,"zero":false},"axis":null},"y2":{"datum":0}}},
{"data":{"values":[{}]},"mark":{"type":"text","text":"ThePivotalPerspective","fontSize":12.6,"fontWeight":"bold","color":"#2f86d4","align":"left","baseline":"middle","clip":false},"encoding":{"x":{"datum":-6.8,"axis":null},"y":{"datum":0.738,"axis":null}}},
{"data":{"values":[{}]},"mark":{"type":"text","text":"published on TradingView.com, September 01, 2016 16:30 EDT","fontSize":13,"color":"#333333","align":"left","baseline":"middle","clip":false},"encoding":{"x":{"datum":18.5,"axis":null},"y":{"datum":0.738,"axis":null}}},
{"data":{"values":[{}]},"mark":{"type":"text","text":"TVC:NYA, D","fontSize":12,"fontWeight":"bold","color":"#222222","align":"left","baseline":"middle","clip":false},"encoding":{"x":{"datum":-6.53,"axis":null},"y":{"datum":0.31,"axis":null}}},
{"data":{"values":[{}]},"mark":{"type":"text","text":"10771.899","fontSize":13,"color":"#333333","align":"left","baseline":"middle","clip":false},"encoding":{"x":{"datum":7.03,"axis":null},"y":{"datum":0.31,"axis":null}}},
{"data":{"values":[{}]},"mark":{"type":"text","text":"▲","font":"DejaVu Sans","fontSize":11,"color":"#2ca02c","align":"center","baseline":"middle","clip":false},"encoding":{"x":{"datum":20.17,"axis":null},"y":{"datum":0.31,"axis":null}}},
{"data":{"values":[{}]},"mark":{"type":"text","text":"+7.150 (+0.07%)","fontSize":13,"color":"#333333","align":"left","baseline":"middle","clip":false},"encoding":{"x":{"datum":21.65,"axis":null},"y":{"datum":0.31,"axis":null}}},
{"data":{"values":[{}]},"mark":{"type":"text","text":"O:","fontSize":12,"fontWeight":"bold","color":"#222222","align":"left","baseline":"middle","clip":false},"encoding":{"x":{"datum":40.06,"axis":null},"y":{"datum":0.31,"axis":null}}},
{"data":{"values":[{}]},"mark":{"type":"text","text":"10762.450","fontSize":13,"color":"#33a532","align":"left","baseline":"middle","clip":false},"encoding":{"x":{"datum":42.46,"axis":null},"y":{"datum":0.31,"axis":null}}},
{"data":{"values":[{}]},"mark":{"type":"text","text":"H:","fontSize":12,"fontWeight":"bold","color":"#222222","align":"left","baseline":"middle","clip":false},"encoding":{"x":{"datum":54.95,"axis":null},"y":{"datum":0.31,"axis":null}}},
{"data":{"values":[{}]},"mark":{"type":"text","text":"10780.710","fontSize":13,"color":"#33a532","align":"left","baseline":"middle","clip":false},"encoding":{"x":{"datum":57.35,"axis":null},"y":{"datum":0.31,"axis":null}}},
{"data":{"values":[{}]},"mark":{"type":"text","text":"L:","fontSize":12,"fontWeight":"bold","color":"#222222","align":"left","baseline":"middle","clip":false},"encoding":{"x":{"datum":69.94,"axis":null},"y":{"datum":0.31,"axis":null}}},
{"data":{"values":[{}]},"mark":{"type":"text","text":"10704.000","fontSize":13,"color":"#33a532","align":"left","baseline":"middle","clip":false},"encoding":{"x":{"datum":71.92,"axis":null},"y":{"datum":0.31,"axis":null}}},
{"data":{"values":[{}]},"mark":{"type":"text","text":"C:","fontSize":12,"fontWeight":"bold","color":"#222222","align":"left","baseline":"middle","clip":false},"encoding":{"x":{"datum":84.55,"axis":null},"y":{"datum":0.31,"axis":null}}},
{"data":{"values":[{}]},"mark":{"type":"text","text":"10771.899","fontSize":13,"color":"#33a532","align":"left","baseline":"middle","clip":false},"encoding":{"x":{"datum":86.96,"axis":null},"y":{"datum":0.31,"axis":null}}}
]
},
{
"width":1448,"height":606,
"layer":[
{"data":{"name":"bb"},"mark":{"type":"area","color":"#008080","opacity":0.055,"clip":true},"encoding":{"x":{"field":"i","type":"quantitative","scale":{"domain":[-6.66,261.2],"nice":false,"zero":false,"padding":0},"axis":{"values":[0,20,41.6,61,81,103,124,145,166.5,187,210,231.8,252.9],"grid":true,"gridColor":"#e6e6e6","labels":false,"ticks":false,"domain":false,"title":null}},"y":{"field":"up","type":"quantitative","scale":{"domain":[10482.3,11207.8],"nice":false,"zero":false,"padding":0},"axis":{"orient":"right","values":[10520,10560,10600,10640,10680,10720,10760,10800,10840,10880,10920,10960,11000,11040,11080,11120,11160,11200],"tickCount":40,"format":".3f","labelOverlap":false,"grid":true,"gridColor":"#e6e6e6","tickSize":5,"labelPadding":2,"domain":false,"title":null}},"y2":{"field":"lo"}}},
{"data":{"values":[{}]},"mark":{"type":"text","text":"NYA, D","fontSize":100,"color":"#e3e3e3","align":"center","baseline":"alphabetic"},"encoding":{"x":{"datum":127.3},"y":{"datum":10834.9}}},
{"data":{"values":[{}]},"mark":{"type":"text","text":"NYSE COMPOSITE","fontSize":45,"color":"#e8e8e8","align":"center","baseline":"alphabetic"},"encoding":{"x":{"datum":124.7},"y":{"datum":10757}}},
{"data":{"name":"bb"},"mark":{"type":"line","color":"#2e8f8f","strokeWidth":1.2,"clip":true},"encoding":{"x":{"field":"i","type":"quantitative"},"y":{"field":"up","type":"quantitative"}}},
{"data":{"name":"bb"},"mark":{"type":"line","color":"#2e8f8f","strokeWidth":1.2,"clip":true},"encoding":{"x":{"field":"i","type":"quantitative"},"y":{"field":"lo","type":"quantitative"}}},
{"data":{"name":"piv"},"transform":[{"filter":"datum.t==='m'"}],"mark":{"type":"rule","color":"#ff4d4d","strokeWidth":1.8,"strokeDash":[1.8,3.6],"clip":true},"encoding":{"x":{"field":"from","type":"quantitative"},"x2":{"field":"to"},"y":{"field":"p","type":"quantitative"}}},
{"data":{"name":"piv"},"transform":[{"filter":"datum.t==='d'"}],"mark":{"type":"rule","color":"#ff4a4a","strokeWidth":3.6,"strokeDash":[3.4,2.0],"clip":true},"encoding":{"x":{"field":"from","type":"quantitative"},"x2":{"field":"to"},"y":{"field":"p","type":"quantitative"}}},
{"data":{"name":"piv"},"transform":[{"filter":"datum.t==='c'"}],"mark":{"type":"rule","color":"#ff5050","opacity":0.75,"strokeWidth":1.8,"clip":true},"encoding":{"x":{"field":"from","type":"quantitative"},"x2":{"field":"to"},"y":{"field":"p","type":"quantitative"}}},
{"data":{"name":"piv"},"transform":[{"filter":"datum.t==='c'"}],"mark":{"type":"rule","color":"#ff5050","opacity":0.75,"strokeWidth":6,"strokeDash":[1.8,3.6],"clip":true},"encoding":{"x":{"field":"from","type":"quantitative"},"x2":{"field":"to"},"y":{"field":"p","type":"quantitative"}}},
{"data":{"name":"piv"},"transform":[{"filter":"datum.t==='cc'"}],"mark":{"type":"rule","color":"#ff4d4d","strokeWidth":3,"clip":true},"encoding":{"x":{"field":"from","type":"quantitative"},"x2":{"field":"to"},"y":{"field":"p","type":"quantitative"}}},
{"data":{"name":"piv"},"transform":[{"filter":"datum.t==='cc'"}],"mark":{"type":"rule","color":"#ff4d4d","strokeWidth":8,"strokeDash":[2.4,3.0],"clip":true},"encoding":{"x":{"field":"from","type":"quantitative"},"x2":{"field":"to"},"y":{"field":"p","type":"quantitative"}}},
{"data":{"name":"piv"},"transform":[{"filter":"datum.t==='o'"}],"mark":{"type":"rule","color":"#ffa24a","opacity":0.85,"strokeWidth":3,"clip":true},"encoding":{"x":{"field":"from","type":"quantitative"},"x2":{"field":"to"},"y":{"field":"p","type":"quantitative"}}},
{"data":{"name":"piv"},"transform":[{"filter":"datum.t==='o'"}],"mark":{"type":"rule","color":"#ffa24a","opacity":0.85,"strokeWidth":7,"strokeDash":[2.6,2.8],"clip":true},"encoding":{"x":{"field":"from","type":"quantitative"},"x2":{"field":"to"},"y":{"field":"p","type":"quantitative"}}},
{"data":{"name":"piv"},"transform":[{"filter":"datum.t==='oo'"}],"mark":{"type":"rule","color":"#ffa24a","opacity":0.8,"strokeWidth":6,"clip":true},"encoding":{"x":{"field":"from","type":"quantitative"},"x2":{"field":"to"},"y":{"field":"p","type":"quantitative"}}},
{"data":{"name":"piv"},"transform":[{"filter":"datum.t==='oo'"}],"mark":{"type":"rule","color":"#ffa24a","opacity":0.8,"strokeWidth":12,"strokeDash":[3,2.4],"clip":true},"encoding":{"x":{"field":"from","type":"quantitative"},"x2":{"field":"to"},"y":{"field":"p","type":"quantitative"}}},
{"data":{"name":"piv"},"transform":[{"filter":"datum.t==='p'"}],"mark":{"type":"rule","color":"#b35cff","opacity":0.9,"strokeWidth":7,"strokeCap":"round","clip":true},"encoding":{"x":{"field":"from","type":"quantitative"},"x2":{"field":"to"},"y":{"field":"p","type":"quantitative"}}},
{"data":{"name":"piv0"},"mark":{"type":"point","shape":"cross","filled":true,"size":10,"clip":true},"encoding":{"x":{"field":"i","type":"quantitative"},"y":{"field":"p","type":"quantitative"},"color":{"condition":{"test":"datum.side==='s'","value":"#4caf50"},"value":"#ff4d4d"}}},
{"data":{"values":[{}]},"mark":{"type":"rule","color":"#3b7d56","strokeWidth":1,"strokeDash":[2,2]},"encoding":{"y":{"datum":10771.899}}},
{"data":{"name":"candles"},"mark":{"type":"rule","color":"#737375","strokeWidth":1,"clip":true},"encoding":{"x":{"field":"i","type":"quantitative"},"y":{"field":"l","type":"quantitative"},"y2":{"field":"h"}}},
{"data":{"name":"candles"},"mark":{"type":"bar","size":3.6,"strokeWidth":1,"clip":true},"encoding":{"x":{"field":"i","type":"quantitative"},"y":{"field":"o","type":"quantitative"},"y2":{"field":"c"},"color":{"condition":{"test":"datum.c >= datum.o","value":"#6ba583"},"value":"#d75442"},"stroke":{"condition":{"test":"datum.c >= datum.o","value":"#225437"},"value":"#5b1a13"}}},
{"data":{"name":"ma"},"transform":[{"filter":"datum.ma==='400'"}],"mark":{"type":"line","color":"#990000","strokeWidth":2.5,"clip":true},"encoding":{"x":{"field":"i","type":"quantitative"},"y":{"field":"v","type":"quantitative"}}},
{"data":{"name":"ma"},"transform":[{"filter":"datum.ma==='200'"}],"mark":{"type":"line","color":"#000000","strokeWidth":2,"clip":true},"encoding":{"x":{"field":"i","type":"quantitative"},"y":{"field":"v","type":"quantitative"}}},
{"data":{"name":"ma"},"transform":[{"filter":"datum.ma==='100'"}],"mark":{"type":"line","color":"#000000","strokeWidth":1,"clip":true},"encoding":{"x":{"field":"i","type":"quantitative"},"y":{"field":"v","type":"quantitative"}}},
{"data":{"name":"ma"},"transform":[{"filter":"datum.ma==='50'"}],"mark":{"type":"line","color":"#9933ff","strokeWidth":1.2,"clip":true},"encoding":{"x":{"field":"i","type":"quantitative"},"y":{"field":"v","type":"quantitative"}}},
{"data":{"name":"ma"},"transform":[{"filter":"datum.ma==='20'"}],"mark":{"type":"line","color":"#ff8c00","strokeWidth":1.2,"clip":true},"encoding":{"x":{"field":"i","type":"quantitative"},"y":{"field":"v","type":"quantitative"}}},
{"data":{"name":"ma"},"transform":[{"filter":"datum.ma==='10'"}],"mark":{"type":"line","color":"#00e5ee","strokeWidth":1,"clip":true},"encoding":{"x":{"field":"i","type":"quantitative"},"y":{"field":"v","type":"quantitative"}}},
{"data":{"values":[{}]},"mark":{"type":"text","text":"NYSE COMPOSITE, D, TVC","fontSize":11.2,"fontWeight":"bold","color":"#333333","align":"left","baseline":"middle"},"encoding":{"x":{"datum":-5.18},"y":{"datum":11188}}},
{"data":{"values":[{}]},"mark":{"type":"text","text":["Vol (20, false)","JR_MT_Pivots (true, true, true)","JR_LT_Pivots (true, true, true)","MA (10, close)","MA (20, close)","MA (50, close)","MA (100, close)","MA (200, close)","MA (400, close)","BB (20, close, 2)"],"lineHeight":17,"fontSize":12.4,"color":"#555555","align":"left","baseline":"top"},"encoding":{"x":{"datum":-5.18},"y":{"datum":11174.5}}},
{"data":{"values":[{}]},"mark":{"type":"rect","color":"#5a9c6e","clip":false},"encoding":{"x":{"datum":261.6},"x2":{"datum":272.4},"y":{"datum":10780.3},"y2":{"datum":10763.5}}},
{"data":{"values":[{}]},"mark":{"type":"text","text":"10771.899","fontSize":11,"fontWeight":"bold","color":"white","align":"left","baseline":"middle","clip":false},"encoding":{"x":{"datum":262.3},"y":{"datum":10771.899}}}
]
},
{
"width":1448,"height":87,
"layer":[
{"data":{"name":"rsi"},"mark":{"type":"line","color":"#4a87e6","strokeWidth":1.1,"clip":true},"encoding":{"x":{"field":"i","type":"quantitative","scale":{"domain":[-6.66,261.2],"nice":false,"zero":false,"padding":0},"axis":{"values":[0,20,41.6,61,81,103,124,145,166.5,187,210,231.8,252.9],"grid":true,"gridColor":"#e0e3ea","labels":false,"ticks":false,"domain":false,"title":null}},"y":{"field":"v","type":"quantitative","scale":{"domain":[24.31,73.05],"nice":false,"zero":false,"padding":0},"axis":{"orient":"right","values":[40,60],"format":".4f","labelOverlap":false,"grid":true,"gridColor":"#d3d8e2","tickSize":5,"labelPadding":2,"domain":false,"title":null}}}},
{"data":{"values":[{}]},"mark":{"type":"rect","color":"#2962ff","opacity":0.07},"encoding":{"y":{"datum":70},"y2":{"datum":30}}},
{"data":{"values":[{"v":70},{"v":30}]},"mark":{"type":"rule","color":"#a8a8a8","strokeDash":[4,3],"strokeWidth":1},"encoding":{"y":{"field":"v","type":"quantitative"}}},
{"data":{"values":[{}]},"mark":{"type":"text","text":"RSI (14, close)","fontSize":12,"color":"#555555","align":"left","baseline":"middle"},"encoding":{"x":{"datum":-5.18},"y":{"datum":64.65}}}
]
},
{
"width":1448,"height":83,
"layer":[
{"data":{"name":"hist"},"mark":{"type":"rule","color":"#ee1166","strokeWidth":1,"clip":true},"encoding":{"x":{"field":"i","type":"quantitative","scale":{"domain":[-6.66,261.2],"nice":false,"zero":false,"padding":0},"axis":{"values":[0,20,41.6,61,81,103,124,145,166.5,187,210,231.8,252.9],"labelExpr":"datum.value == 0 ? 'Nov' : datum.value == 20 ? 'Dec' : datum.value == 41.6 ? '2016' : datum.value == 61 ? 'Feb' : datum.value == 81 ? 'Mar' : datum.value == 103 ? 'Apr' : datum.value == 124 ? 'May' : datum.value == 145 ? 'Jun' : datum.value == 166.5 ? 'Jul' : datum.value == 187 ? 'Aug' : datum.value == 210 ? 'Sep' : datum.value == 231.8 ? 'Oct' : 'Nov'","labelFontWeight":{"condition":{"test":"datum.value == 41.6","value":"bold"},"value":"normal"},"labelOverlap":false,"labelFlush":false,"labelFontSize":11,"grid":true,"gridColor":"#e6e6e6","tickSize":4,"labelPadding":2,"domain":false,"title":null}},"y":{"field":"h","type":"quantitative","scale":{"domain":[-168.9,114.3],"nice":false,"zero":false,"padding":0},"axis":{"orient":"right","values":[-100,0,100],"format":".4f","labelOverlap":false,"grid":true,"gridColor":"#e6e6e6","tickSize":5,"labelPadding":2,"domain":false,"title":null}},"y2":{"datum":0}}},
{"data":{"name":"macd"},"transform":[{"filter":"datum.k==='m'"}],"mark":{"type":"line","color":"#2196f3","strokeWidth":1.3,"clip":true},"encoding":{"x":{"field":"i","type":"quantitative"},"y":{"field":"v","type":"quantitative"}}},
{"data":{"name":"macd"},"transform":[{"filter":"datum.k==='s'"}],"mark":{"type":"line","color":"#ff7a10","strokeWidth":1.3,"clip":true},"encoding":{"x":{"field":"i","type":"quantitative"},"y":{"field":"v","type":"quantitative"}}},
{"data":{"values":[{}]},"mark":{"type":"text","text":"MACD (7, 12, close, 5, false, true)","fontSize":12,"color":"#555555","align":"left","baseline":"middle"},"encoding":{"x":{"datum":-5.18},"y":{"datum":61.4}}}
]
}
]
}
